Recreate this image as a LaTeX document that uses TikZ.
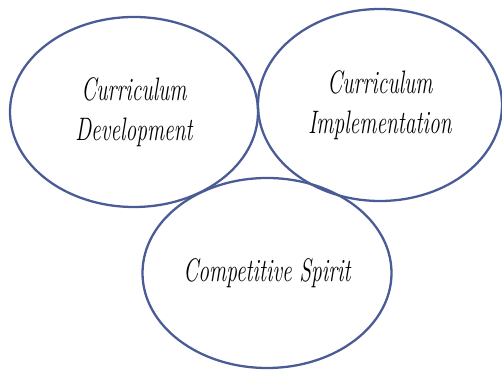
\documentclass[tikz,border=0pt]{standalone}
\usetikzlibrary{shapes.geometric}
\definecolor{ringblue}{HTML}{4A5C96}
\newcommand{\narrow}[1]{\scalebox{0.66}[1]{#1}}
\begin{document}
\begin{tikzpicture}

      \tikzset{ring/.style={draw=ringblue, ellipse, line width=1.3pt, inner sep=0pt, align=center,
                font=\itshape\fontsize{18.5}{22.5}\selectfont}}
      \useasboundingbox (0,0) rectangle (10.04,-7.4);
%% Circles
      	\node[ring, minimum width=4.96cm, minimum height=3.8cm] (dev) at (2.68,-2.24) {\narrow{Curriculum}\\\narrow{Development}};
      	\node[ring, minimum width=4.88cm, minimum height=3.84cm] (impl) at (7.6,-2.1) {\narrow{Curriculum}\\\narrow{Implementation}};
      	\node[ring, minimum width=4.98cm, minimum height=3.8cm] (spirit) at (5.34,-5.46) {\narrow{Competitive Spirit}};

	\end{tikzpicture}
\end{document}
